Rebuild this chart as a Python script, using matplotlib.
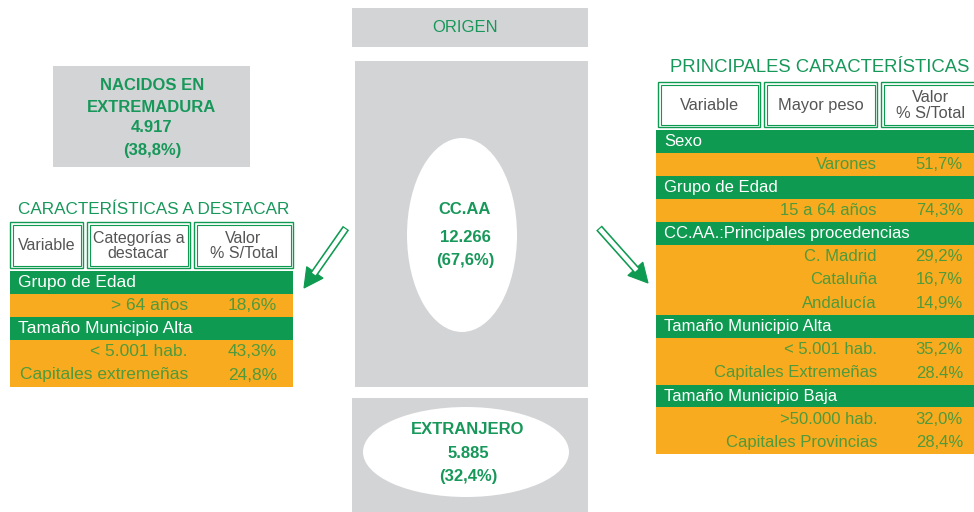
import numpy as np
import matplotlib.pyplot as plt
from matplotlib.patches import Rectangle, Ellipse, Polygon

plt.rcParams['font.family'] = ['Liberation Sans', 'DejaVu Sans']

# colours
gray = '#d3d4d6'
green = '#0e9a50'
orange = '#f8ab1e'
txtgreen = '#17985a'
rowtxt = '#4f9a3c'
hdrtxt = '#555555'

# data
origen_title = "ORIGEN"
nacidos_lines = ["NACIDOS EN", "EXTREMADURA", "4.917", "(38,8%)"]
ccaa_lines = ["CC.AA", "12.266", "(67,6%)"]
extranjero_lines = ["EXTRANJERO", "5.885", "(32,4%)"]

left_title = "CARACTERÍSTICAS A DESTACAR"
left_headers = ["Variable", "Categorías a\ndestacar", "Valor\n% S/Total"]
left_groups = ["Grupo de Edad", "Tamaño Municipio Alta"]
left_cats = [["> 64 años"], ["< 5.001 hab.", "Capitales extremeñas"]]
left_vals = [["18,6%"], ["43,3%", "24,8%"]]

right_title = "PRINCIPALES CARACTERÍSTICAS"
right_headers = ["Variable", "Mayor peso", "Valor\n% S/Total"]
right_groups = ["Sexo", "Grupo de Edad", "CC.AA.:Principales procedencias",
                "Tamaño Municipio Alta", "Tamaño Municipio Baja"]
right_cats = [["Varones"], ["15 a 64 años"], ["C. Madrid", "Cataluña", "Andalucía"],
              ["< 5.001 hab.", "Capitales Extremeñas"],
              [">50.000 hab.", "Capitales Provincias"]]
right_vals = [["51,7%"], ["74,3%"], ["29,2%", "16,7%", "14,9%"],
              ["35,2%", "28.4%"], ["32,0%", "28,4%"]]

fig = plt.figure(figsize=(9.74, 5.12), dpi=100)
ax = fig.add_axes([0, 0, 1, 1])
ax.set_xlim(0, 974)
ax.set_ylim(512, 0)
ax.axis('off')


def header_cell(x0, x1, y0, y1, label, fs):
    ax.add_patch(Rectangle((x0, y0), x1 - x0, y1 - y0, fc='white', ec=green, lw=1.0))
    ax.add_patch(Rectangle((x0 + 2.5, y0 + 2.5), x1 - x0 - 5, y1 - y0 - 5, fill=False, ec=green, lw=0.8))
    ax.text((x0 + x1) / 2, (y0 + y1) / 2 + 1, label, ha='center', va='center',
            fontsize=fs, color=hdrtxt, linespacing=1.05)


def draw_table(xl, xr, ytop, groups, cats, vals, cat_x, val_x, fs):
    y = ytop
    for g, cs, vs in zip(groups, cats, vals):
        ax.add_patch(Rectangle((xl, y), xr - xl, 22.5, fc=green, ec='none'))
        ax.text(xl + 8, y + 11.5, g, ha='left', va='center', fontsize=fs, color='white')
        y += 22.5
        h = 23.5 * len(cs)
        ax.add_patch(Rectangle((xl, y), xr - xl, h, fc=orange, ec='none'))
        for i, (c, v) in enumerate(zip(cs, vs)):
            yc = y + 23.5 * i + 12
            ax.text(cat_x, yc, c, ha='right', va='center', fontsize=fs, color=rowtxt)
            ax.text(val_x, yc, v, ha='right', va='center', fontsize=fs, color=rowtxt)
        y += h


def arrow(tail, tip):
    tail = np.array(tail, float)
    tip = np.array(tip, float)
    d = tip - tail
    d /= np.hypot(*d)
    n = np.array([-d[1], d[0]])
    base = tip - d * 19
    ax.plot([tail[0], base[0] + d[0] * 2], [tail[1], base[1] + d[1] * 2],
            color=green, lw=5.5, solid_capstyle='butt')
    ax.plot([tail[0] + d[0] * 1.2, base[0] + d[0] * 2], [tail[1] + d[1] * 1.2, base[1] + d[1] * 2],
            color='white', lw=3.2, solid_capstyle='butt')
    ax.add_patch(Polygon([tip, base + n * 10, base - n * 10], closed=True,
                         fc=green, ec=green, lw=0.8))


# centre column
ax.add_patch(Rectangle((352, 8), 236, 39, fc=gray, ec='none'))
ax.text(465, 27, origen_title, ha='center', va='center', fontsize=12, color=txtgreen)

ax.add_patch(Rectangle((355, 61), 233, 326, fc=gray, ec='none'))
ax.add_patch(Ellipse((462, 235), 110, 194, fc='white', ec='none'))
for t, yy in zip(ccaa_lines, [210, 237, 261]):
    ax.text(465, yy, t, ha='center', va='center', fontsize=12, fontweight='bold', color=txtgreen)

ax.add_patch(Rectangle((352, 398), 236, 114, fc=gray, ec='none'))
ax.add_patch(Ellipse((466, 452), 206, 90, fc='white', ec='none'))
for t, yy in zip(extranjero_lines, [430, 453, 476]):
    ax.text(468, yy, t, ha='center', va='center', fontsize=12, fontweight='bold', color=txtgreen)

# nacidos box
ax.add_patch(Rectangle((53, 66), 197, 101, fc=gray, ec='none'))
for t, yy in zip(nacidos_lines, [85, 107, 128, 150]):
    ax.text(152, yy, t, ha='center', va='center', fontsize=12, fontweight='bold', color=txtgreen)

# left table
ax.text(154, 210, left_title, ha='center', va='center', fontsize=12.3, color=txtgreen)
for (x0, x1), lab in zip([(10, 83), (87, 190), (194, 293)], left_headers):
    header_cell(x0, x1, 222, 268, lab, 11.5)
draw_table(10, 293, 271, left_groups, left_cats, left_vals, 188, 277, 12.5)

# right table
ax.text(820, 68, right_title, ha='center', va='center', fontsize=13.3, color=txtgreen)
for (x0, x1), lab in zip([(658, 760), (764, 877), (881, 980)], right_headers):
    header_cell(x0, x1, 82, 127, lab, 11.8)
draw_table(656, 980, 130, right_groups, right_cats, right_vals, 877, 963, 12)

# arrows
arrow((346, 228), (304, 288))
arrow((599, 228), (648, 283))

fig.savefig('out.png', dpi=100)
